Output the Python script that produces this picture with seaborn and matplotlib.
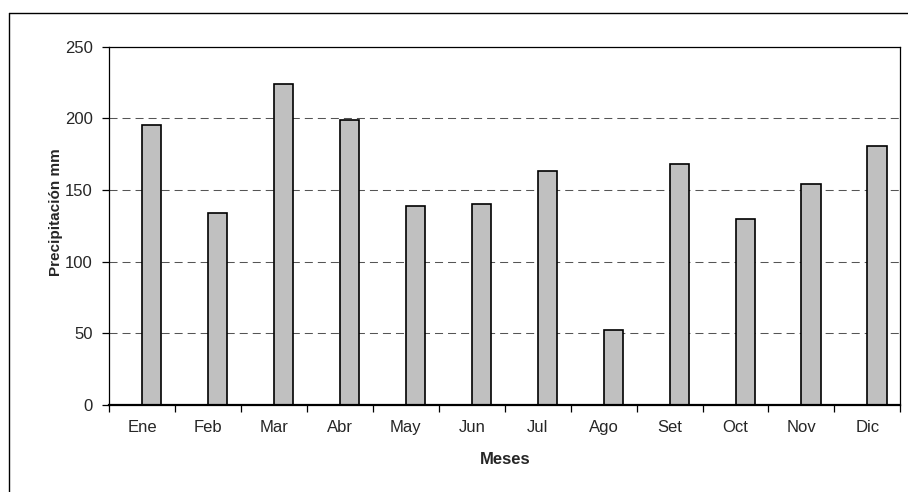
import matplotlib
matplotlib.use("Agg")
import matplotlib.pyplot as plt
from matplotlib.lines import Line2D
import seaborn as sns
import pandas as pd

meses = ["Ene", "Feb", "Mar", "Abr", "May", "Jun", "Jul", "Ago", "Set", "Oct", "Nov", "Dic"]
precipitacion = [195, 134, 224, 199, 139, 140, 163, 52, 168, 130, 154, 181]
y_ticks = [0, 50, 100, 150, 200, 250]

sns.set_theme(style="white")
plt.rcParams["font.family"] = ["Liberation Sans", "DejaVu Sans"]

df = pd.DataFrame({"Meses": meses, "Precipitación mm": precipitacion})

fig = plt.figure(figsize=(9.08, 4.92), dpi=100)
ax = fig.add_axes([109.3 / 908, 1 - 404.7 / 492, (900.3 - 109.3) / 908, (404.7 - 46.7) / 492])

sns.barplot(data=df, x="Meses", y="Precipitación mm", ax=ax, color="#C0C0C0",
            width=0.29, edgecolor="black", linewidth=1.2, saturation=1)

# bars sit slightly right of the category centre
for p in ax.patches:
    p.set_x(p.get_x() + 0.146)

ax.set_ylim(0, 250)
ax.set_xlim(-0.5, len(meses) - 0.5)
ax.set_yticks(y_ticks)
ax.set_yticklabels([str(v) for v in y_ticks])

for v in y_ticks[1:-1]:
    ax.axhline(v, color="#555555", lw=0.75, dashes=(7.7, 4.8), zorder=0)

for side in ["top", "right", "left"]:
    ax.spines[side].set_visible(True)
    ax.spines[side].set_color("black")
    ax.spines[side].set_linewidth(0.9)
ax.spines["bottom"].set_color("black")
ax.spines["bottom"].set_linewidth(1.6)

# ticks at category boundaries on x
ax.set_xticks(range(len(meses)))
ax.set_xticklabels(meses, fontsize=12)
ax.set_xticks([i - 0.5 for i in range(len(meses) + 1)], minor=True)
ax.tick_params(axis="x", which="major", length=0, pad=11)
ax.tick_params(axis="x", which="minor", length=5, width=0.9, color="black", direction="out", bottom=True)
ax.tick_params(axis="y", length=5, width=0.9, color="black", direction="out", left=True, pad=7,
               labelsize=12)

ax.set_xlabel("Meses", fontsize=12, fontweight="bold")
ax.set_ylabel("Precipitación mm", fontsize=11, fontweight="bold")
ax.xaxis.set_label_coords(0.5, -0.132)
ax.yaxis.set_label_coords(-0.059, (404.7 - 212.5) / (404.7 - 46.7))

# chart area frame
fig.add_artist(Line2D([9.3 / 908, 9.3 / 908], [0, 1 - 12.7 / 492], color="black", lw=1.0,
                      transform=fig.transFigure))
fig.add_artist(Line2D([9.3 / 908, 1], [1 - 12.7 / 492, 1 - 12.7 / 492], color="black", lw=1.0,
                      transform=fig.transFigure))

fig.savefig("out.png", dpi=100)
